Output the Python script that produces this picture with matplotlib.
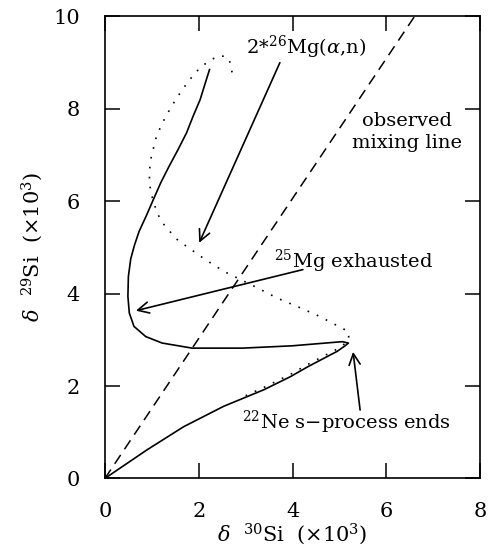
import numpy as np
from matplotlib import pyplot as plt

plt.rcParams['font.family'] = 'DejaVu Serif'
plt.rcParams['mathtext.fontset'] = 'dejavuserif'

# solid model track: origin -> tip -> upper branch
solid_x = [0.0, 0.9, 1.68, 2.53, 3.39, 3.95, 4.33, 4.63, 4.95, 5.12, 5.19,
           5.06, 3.99, 2.93, 1.86, 1.22, 0.87, 0.62, 0.52, 0.49, 0.5, 0.55, 0.63, 0.73, 0.88,
           1.03, 1.19, 1.37, 1.56, 1.74, 1.88, 2.03, 2.14, 2.23]
solid_y = [0.0, 0.62, 1.12, 1.56, 1.92, 2.2, 2.42, 2.58, 2.75, 2.87, 2.93,
           2.96, 2.87, 2.82, 2.82, 2.93, 3.07, 3.29, 3.58, 3.94, 4.37, 4.75, 5.05, 5.35, 5.68,
           6.03, 6.4, 6.76, 7.12, 7.48, 7.84, 8.2, 8.56, 8.85]

# dotted model track (runs on top of the lower solid branch, then back up)
dot_x = [3.0, 3.39, 3.95, 4.33, 4.63, 4.95, 5.12, 5.2, 5.19, 4.57, 4.1, 3.68, 3.18, 2.54, 2.15,
         1.76, 1.56, 1.39, 1.23, 1.11, 0.98, 0.95, 0.95, 0.98, 1.03, 1.09, 1.17, 1.27, 1.39,
         1.51, 1.64, 1.77, 1.91, 2.06, 2.22, 2.4, 2.58, 2.68, 2.71]
dot_y = [1.79, 1.97, 2.25, 2.47, 2.63, 2.8, 2.92, 3.0, 3.18, 3.51, 3.72, 3.9, 4.16, 4.48, 4.73,
         5.01, 5.15, 5.34, 5.53, 5.75, 6.18, 6.43, 6.67, 6.92, 7.13, 7.37, 7.57, 7.78, 8.0,
         8.2, 8.4, 8.58, 8.76, 8.92, 9.03, 9.14, 9.14, 8.99, 8.78]

# observed mixing line
mix_x = [0.0, 6.6]
mix_y = [0.0, 10.0]

xticks = [0, 2, 4, 6, 8]
yticks = [0, 2, 4, 6, 8, 10]

fig = plt.figure(figsize=(4.88, 5.48), dpi=100)
ax = fig.add_axes([0.215, 0.127, 0.769, 0.843])

ax.plot(solid_x, solid_y, color='black', lw=1.2)
ax.plot(dot_x, dot_y, color='black', lw=1.2, linestyle=(0, (1, 5)))
ax.plot(mix_x, mix_y, color='black', lw=1.1, linestyle=(0, (7, 4.5)))

arr = dict(arrowstyle='->', lw=1.2, color='black', mutation_scale=20, shrinkA=0, shrinkB=0)
ax.annotate('', xy=(2.01, 5.1), xytext=(3.73, 9.0), arrowprops=arr)
ax.annotate('', xy=(0.66, 3.63), xytext=(4.22, 4.52), arrowprops=arr)
ax.annotate('', xy=(5.29, 2.74), xytext=(5.44, 1.48), arrowprops=arr)

ax.text(3.0, 9.33, r'2*$^{26}$Mg($\alpha$,n)', fontsize=14, ha='left', va='center')
ax.text(6.44, 7.5, 'observed\nmixing line', fontsize=14, ha='center', va='center', linespacing=1.25)
ax.text(3.6, 4.69, r'$^{25}$Mg exhausted', fontsize=14, ha='left', va='center')
ax.text(2.92, 1.22, '$^{22}$Ne s\u2212process ends', fontsize=14, ha='left', va='center')

ax.set_xlim(0, 8)
ax.set_ylim(0, 10)
ax.set_xticks(xticks)
ax.set_yticks(yticks)
ax.tick_params(direction='in', length=11, width=1.1, top=True, right=True, labelsize=15)
ax.tick_params(axis='x', pad=17)
ax.tick_params(axis='y', pad=18)
for s in ax.spines.values():
    s.set_linewidth(1.2)

ax.set_xlabel(r'$\delta$  $^{30}$Si  ($\times$10$^3$)', fontsize=15, labelpad=0)
ax.set_ylabel(r'$\delta$  $^{29}$Si  ($\times$10$^3$)', fontsize=15, labelpad=6)

plt.savefig('out.png', dpi=100)
